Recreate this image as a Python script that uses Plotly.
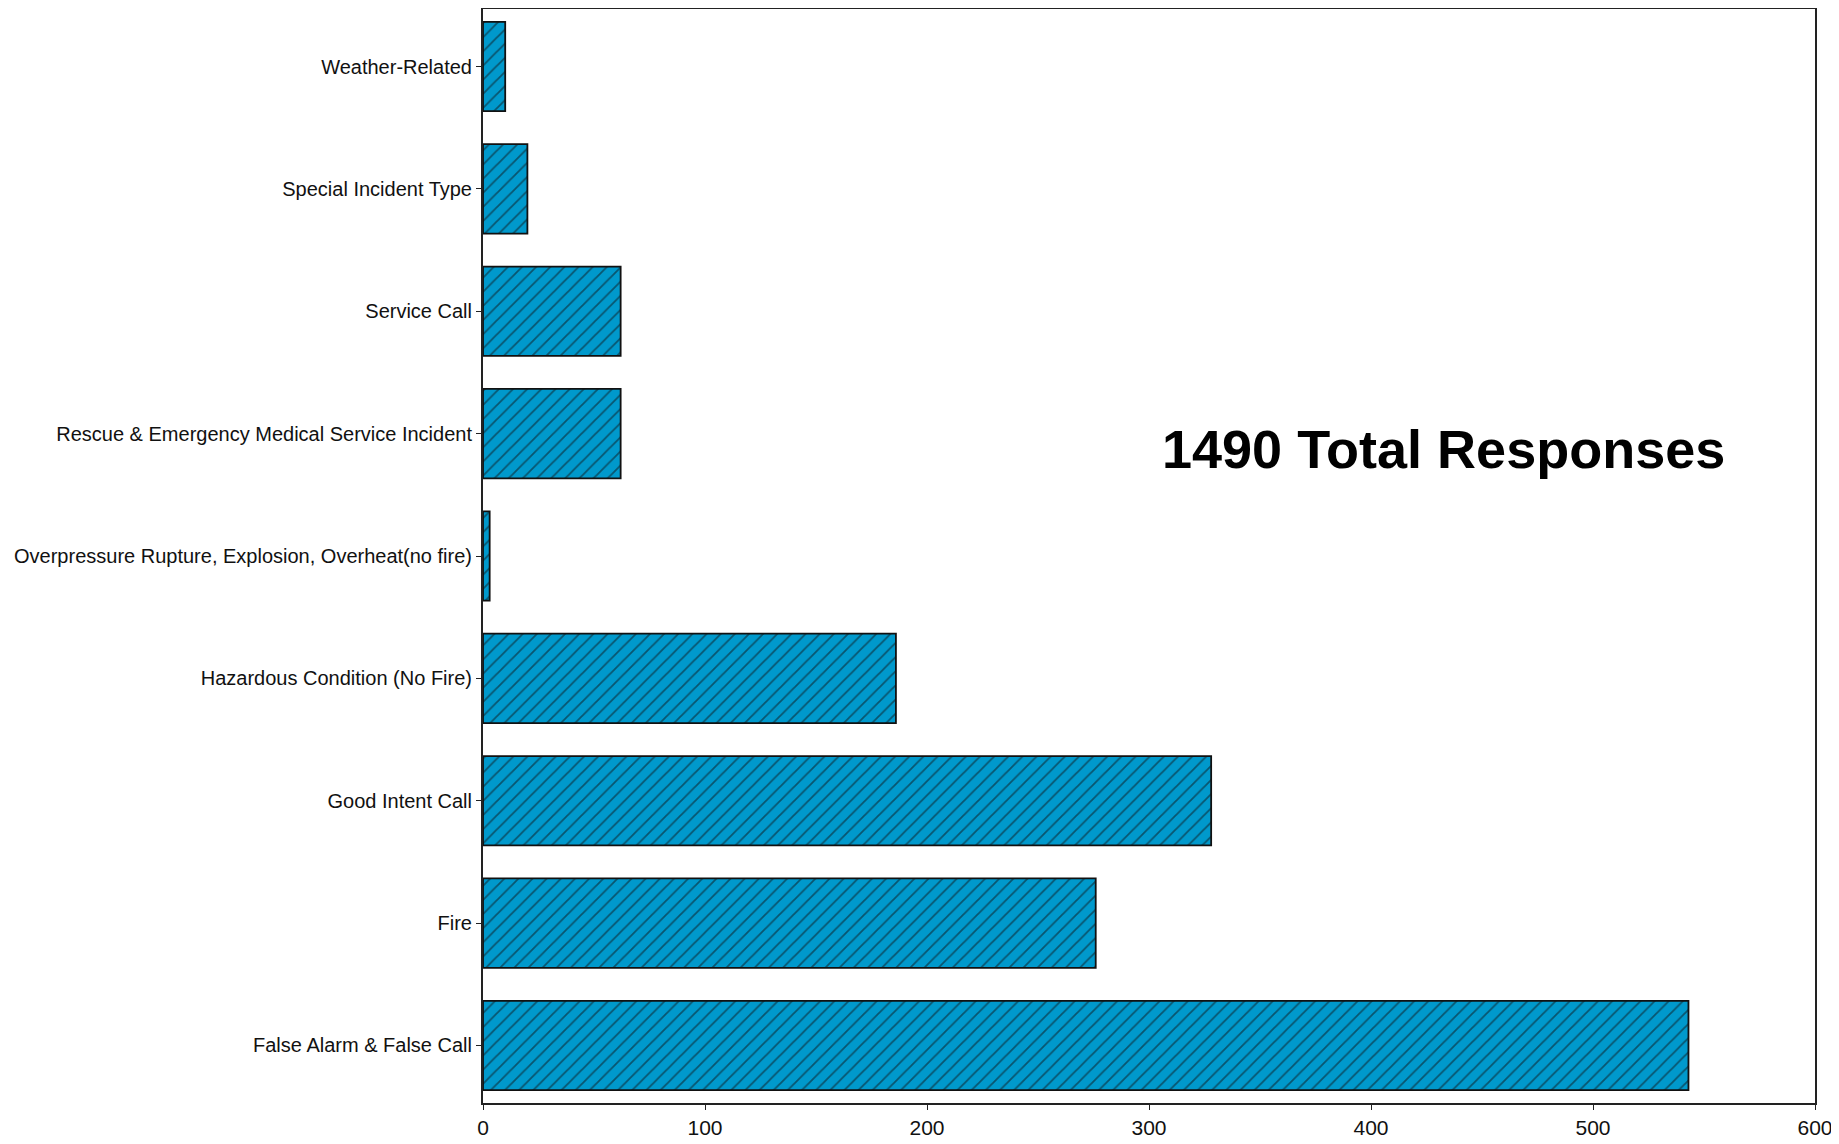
import plotly.graph_objects as go

# Categories listed bottom-to-top (as plotted on the y axis)
categories = [
    "False Alarm & False Call",
    "Fire",
    "Good Intent Call",
    "Hazardous Condition (No Fire)",
    "Overpressure Rupture, Explosion, Overheat(no fire)",
    "Rescue & Emergency Medical Service Incident",
    "Service Call",
    "Special Incident Type",
    "Weather-Related",
]
responses = [543, 276, 328, 186, 3, 62, 62, 20, 10]
x_ticks = [0, 100, 200, 300, 400, 500, 600]
total_label = "1490 Total Responses"

# page body has an 8px margin, so the figure is sized to fit inside the window
W, H = 1831, 1136
L, R, T, B = 475, 24, 1, 41

label_font = "Arial, Liberation Sans, sans-serif"

fig = go.Figure()
fig.add_trace(go.Bar(
    x=responses,
    y=categories,
    orientation="h",
    marker=dict(
        color="#0099CC",
        line=dict(color="#111111", width=1.8),
        pattern=dict(shape="/", fgcolor="#111111", size=10, solidity=0.18),
    ),
    showlegend=False,
    hoverinfo="x+y",
))

fig.update_layout(
    width=W, height=H,
    margin=dict(l=L, r=R, t=T, b=B),
    paper_bgcolor="white",
    plot_bgcolor="white",
    bargap=0.27,
    font=dict(family=label_font, color="#111111", size=20),
    annotations=[dict(
        text=total_label,
        x=0.721, y=0.598, xref="paper", yref="paper",
        xanchor="center", yanchor="middle",
        showarrow=False,
        font=dict(family="Arial, Liberation Sans, sans-serif", size=54, color="black", weight="bold"),
    )],
)

fig.update_xaxes(
    range=[0, 600],
    tickvals=x_ticks,
    ticktext=[str(v) for v in x_ticks],
    showgrid=False, zeroline=False,
    showline=True, linecolor="#222222", linewidth=2, mirror=True,
    ticks="outside", ticklen=5, tickcolor="#222222",
    tickfont=dict(size=21),
    automargin=False,
)
fig.update_yaxes(
    type="category",
    range=[-0.47, 8.47],
    showgrid=False, zeroline=False,
    showline=True, linecolor="#222222", linewidth=2, mirror=True,
    ticks="outside", ticklen=5, tickcolor="#222222",
    tickfont=dict(size=20),
    automargin=False,
)

fig.write_html("out.html")
